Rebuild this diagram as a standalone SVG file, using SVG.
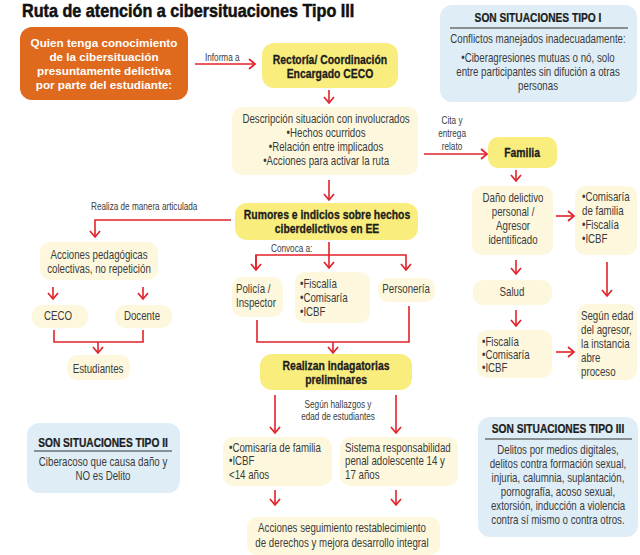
<svg xmlns="http://www.w3.org/2000/svg" width="640" height="555" viewBox="0 0 640 555">
<defs>
<marker id="ah" markerUnits="userSpaceOnUse" markerWidth="12" markerHeight="12" viewBox="0 0 12 12" refX="10" refY="6" orient="auto">
<path d="M4,1 L10,6 L4,11" fill="none" stroke="#e2222a" stroke-width="1.7"/>
</marker>
</defs>
<style>
.t{font-family:"Liberation Sans",Arial,sans-serif;font-size:12px;fill:#3b3b3b;transform-box:fill-box;transform-origin:left center;transform:scaleX(0.81)}
.c{text-anchor:middle;transform-origin:center}
.b{font-weight:bold;fill:#1c1c1c;stroke:#1c1c1c;stroke-width:0.3px;font-size:13px;transform:scaleX(0.8)}
.h{font-weight:bold;fill:#1c1c1c;stroke:#1c1c1c;stroke-width:0.25px;font-size:12px;transform:scaleX(0.85)}
.s{font-size:10.5px;transform:scaleX(0.78)}
.ttl{font-weight:bold;fill:#111;stroke:#111;stroke-width:0.5px;font-size:17.5px;transform:scaleX(0.925)}
.ar{stroke:#e2222a;stroke-width:1.6;fill:none}
.y{fill:#f9ed7e}
.ly{fill:#fdf8dd}
.bl{fill:#dfeef6}
.or{fill:#df6a1d}
.w{font-family:"Liberation Sans",Arial,sans-serif;font-weight:bold;font-size:11.7px;fill:#fff;text-anchor:middle}
.ul{stroke:#333;stroke-width:1.2}
</style>
<rect width="640" height="555" fill="#fff"/>
<text class="t ttl" x="22" y="17">Ruta de atención a cibersituaciones Tipo III</text>

<g id="connectors">
<path class="ar" d="M195,64 H255" marker-end="url(#ah)"/>
<path class="ar" d="M329,90 V103" marker-end="url(#ah)"/>
<path class="ar" d="M329,180 V200" marker-end="url(#ah)"/>
<path class="ar" d="M424,154 H487" marker-end="url(#ah)"/>
<path class="ar" d="M516,170 V181" marker-end="url(#ah)"/>
<path class="ar" d="M556,216 H574" marker-end="url(#ah)"/>
<path class="ar" d="M607,262 V296" marker-end="url(#ah)"/>
<path class="ar" d="M516,260 V274" marker-end="url(#ah)"/>
<path class="ar" d="M516,310 V326" marker-end="url(#ah)"/>
<path class="ar" d="M556,352 H574" marker-end="url(#ah)"/>
<path class="ar" d="M231,220 H95 V237" marker-end="url(#ah)"/>
<path class="ar" d="M53,287 V299" marker-end="url(#ah)"/>
<path class="ar" d="M143,287 V299" marker-end="url(#ah)"/>
<path class="ar" d="M54,330 V342 H143 V330"/>
<path class="ar" d="M98,342 V353" marker-end="url(#ah)"/>
<path class="ar" d="M329,242 V268" marker-end="url(#ah)"/>
<path class="ar" d="M256,270 V255 H406 V270" marker-end="url(#ah)"/>
<path class="ar" d="M256,255 V270" marker-end="url(#ah)"/>
<path class="ar" d="M257,320 V342 H409 V306"/>
<path class="ar" d="M333,342 V353" marker-end="url(#ah)"/>
<path class="ar" d="M275,395 V433" marker-end="url(#ah)"/>
<path class="ar" d="M396,395 V433" marker-end="url(#ah)"/>
<path class="ar" d="M275,490 V505" marker-end="url(#ah)"/>
<path class="ar" d="M396,490 V505" marker-end="url(#ah)"/>
</g>

<g id="labels">
<text class="t s" x="205" y="61">Informa a</text>
<text class="t s c" x="452" y="124">Cita y</text>
<text class="t s c" x="452" y="137">entrega</text>
<text class="t s c" x="452" y="150">relato</text>
<text class="t s" x="91" y="210">Realiza de manera articulada</text>
<text class="t s" x="271" y="252">Convoca a:</text>
<text class="t s c" x="338" y="408">Según hallazgos y</text>
<text class="t s c" x="338" y="420">edad de estudiantes</text>
</g>

<g id="n-quien">
<rect class="or" x="20" y="27" width="168" height="73" rx="12"/>
<text class="w" x="104" y="47">Quien tenga conocimiento</text>
<text class="w" x="104" y="61">de la cibersituación</text>
<text class="w" x="104" y="75">presuntamente delictiva</text>
<text class="w" x="104" y="89">por parte del estudiante:</text>
</g>

<g id="n-rectoria">
<rect class="y" x="262" y="43" width="136" height="45" rx="12"/>
<text class="t b c" x="330" y="64">Rectoría/ Coordinación</text>
<text class="t b c" x="330" y="78">Encargado CECO</text>
</g>

<g id="n-descripcion">
<rect class="ly" x="232" y="107" width="186" height="68" rx="10"/>
<text class="t c" x="326" y="123">Descripción situación con involucrados</text>
<text class="t c" x="326" y="137">•Hechos ocurridos</text>
<text class="t c" x="326" y="151">•Relación entre implicados</text>
<text class="t c" x="326" y="165">•Acciones para activar la ruta</text>
</g>

<g id="n-tipo1">
<rect class="bl" x="440" y="5" width="197" height="97" rx="12"/>
<text class="t h c" x="538" y="22">SON SITUACIONES TIPO I</text>
<line class="ul" x1="450" y1="28" x2="628" y2="28"/>
<text class="t c" x="538" y="43">Conflictos manejados inadecuadamente:</text>
<text class="t c" x="538" y="62">•Ciberagresiones mutuas o nó, solo</text>
<text class="t c" x="538" y="76">entre participantes sin difución a otras</text>
<text class="t c" x="538" y="90">personas</text>
</g>

<g id="n-familia">
<rect class="y" x="488" y="137" width="69" height="31" rx="10"/>
<text class="t b c" x="522" y="157">Familia</text>
</g>

<g id="n-dano">
<rect class="ly" x="472" y="186" width="81" height="69" rx="10"/>
<text class="t c" x="513" y="202">Daño delictivo</text>
<text class="t c" x="513" y="216">personal /</text>
<text class="t c" x="513" y="230">Agresor</text>
<text class="t c" x="513" y="244">identificado</text>
</g>

<g id="n-comisaria1">
<rect class="ly" x="575" y="186" width="62" height="69" rx="10"/>
<text class="t" x="582" y="201">•Comisaría</text>
<text class="t" x="582" y="215">de familia</text>
<text class="t" x="582" y="229">•Fiscalía</text>
<text class="t" x="582" y="243">•ICBF</text>
</g>

<g id="n-salud">
<rect class="ly" x="473" y="280" width="79" height="25" rx="10"/>
<text class="t c" x="512" y="296">Salud</text>
</g>

<g id="n-fiscalia2">
<rect class="ly" x="477" y="330" width="75" height="48" rx="10"/>
<text class="t" x="482" y="346">•Fiscalía</text>
<text class="t" x="482" y="359">•Comisaría</text>
<text class="t" x="482" y="372">•ICBF</text>
</g>

<g id="n-segun">
<rect class="ly" x="577" y="304" width="60" height="76" rx="10"/>
<text class="t" x="581" y="320">Según edad</text>
<text class="t" x="581" y="334">del agresor,</text>
<text class="t" x="581" y="348">la instancia</text>
<text class="t" x="581" y="362">abre</text>
<text class="t" x="581" y="376">proceso</text>
</g>

<g id="n-rumores">
<rect class="y" x="235" y="203" width="183" height="37" rx="12"/>
<text class="t b c" x="327" y="219">Rumores e indicios sobre hechos</text>
<text class="t b c" x="327" y="233">ciberdelictivos en EE</text>
</g>

<g id="n-acciones">
<rect class="ly" x="40" y="242" width="118" height="38" rx="10"/>
<text class="t c" x="99" y="259">Acciones pedagógicas</text>
<text class="t c" x="99" y="273">colectivas, no repetición</text>
</g>

<g id="n-ceco">
<rect class="ly" x="32" y="305" width="56" height="23" rx="10"/>
<text class="t c" x="58" y="320">CECO</text>
</g>

<g id="n-docente">
<rect class="ly" x="115" y="305" width="57" height="23" rx="10"/>
<text class="t c" x="142" y="320">Docente</text>
</g>

<g id="n-estudiantes">
<rect class="ly" x="67" y="355" width="63" height="25" rx="10"/>
<text class="t c" x="98" y="373">Estudiantes</text>
</g>

<g id="n-policia">
<rect class="ly" x="232" y="277" width="51" height="40" rx="10"/>
<text class="t" x="236" y="293">Policía /</text>
<text class="t" x="236" y="307">Inspector</text>
</g>

<g id="n-fiscalia1">
<rect class="ly" x="295" y="272" width="75" height="51" rx="10"/>
<text class="t" x="300" y="288">•Fiscalía</text>
<text class="t" x="300" y="302">•Comisaría</text>
<text class="t" x="300" y="316">•ICBF</text>
</g>

<g id="n-personeria">
<rect class="ly" x="378" y="278" width="57" height="24" rx="10"/>
<text class="t c" x="406" y="293">Personería</text>
</g>

<g id="n-realizan">
<rect class="y" x="260" y="354" width="152" height="36" rx="12"/>
<text class="t b c" x="336" y="370">Realizan indagatorias</text>
<text class="t b c" x="336" y="384">preliminares</text>
</g>

<g id="n-comisaria2">
<rect class="ly" x="223" y="437" width="109" height="49" rx="10"/>
<text class="t" x="229" y="452">•Comisaría de familia</text>
<text class="t" x="229" y="465">•ICBF</text>
<text class="t" x="229" y="479">&lt;14 años</text>
</g>

<g id="n-sistema">
<rect class="ly" x="340" y="437" width="118" height="49" rx="10"/>
<text class="t" x="345" y="452">Sistema responsabilidad</text>
<text class="t" x="345" y="465">penal adolescente 14 y</text>
<text class="t" x="345" y="479">17 años</text>
</g>

<g id="n-seguimiento">
<rect class="ly" x="247" y="517" width="193" height="38" rx="10"/>
<text class="t c" x="342" y="532">Acciones seguimiento restablecimiento</text>
<text class="t c" x="342" y="547">de derechos y mejora desarrollo integral</text>
</g>

<g id="n-tipo2">
<rect class="bl" x="27" y="423" width="153" height="70" rx="12"/>
<text class="t h c" x="103" y="447">SON SITUACIONES TIPO II</text>
<line class="ul" x1="34" y1="451" x2="172" y2="451"/>
<text class="t c" x="103" y="466">Ciberacoso que causa daño y</text>
<text class="t c" x="103" y="480">NO es Delito</text>
</g>

<g id="n-tipo3">
<rect class="bl" x="478" y="417" width="160" height="120" rx="12"/>
<text class="t h c" x="558" y="433">SON SITUACIONES TIPO III</text>
<line class="ul" x1="485" y1="439" x2="632" y2="439"/>
<text class="t c" x="558" y="454">Delitos por medios digitales,</text>
<text class="t c" x="558" y="468">delitos contra formación sexual,</text>
<text class="t c" x="558" y="482">injuria, calumnia, suplantación,</text>
<text class="t c" x="558" y="496">pornografía, acoso sexual,</text>
<text class="t c" x="558" y="510">extorsión, inducción a violencia</text>
<text class="t c" x="558" y="524">contra sí mismo o contra otros.</text>
</g>
</svg>
